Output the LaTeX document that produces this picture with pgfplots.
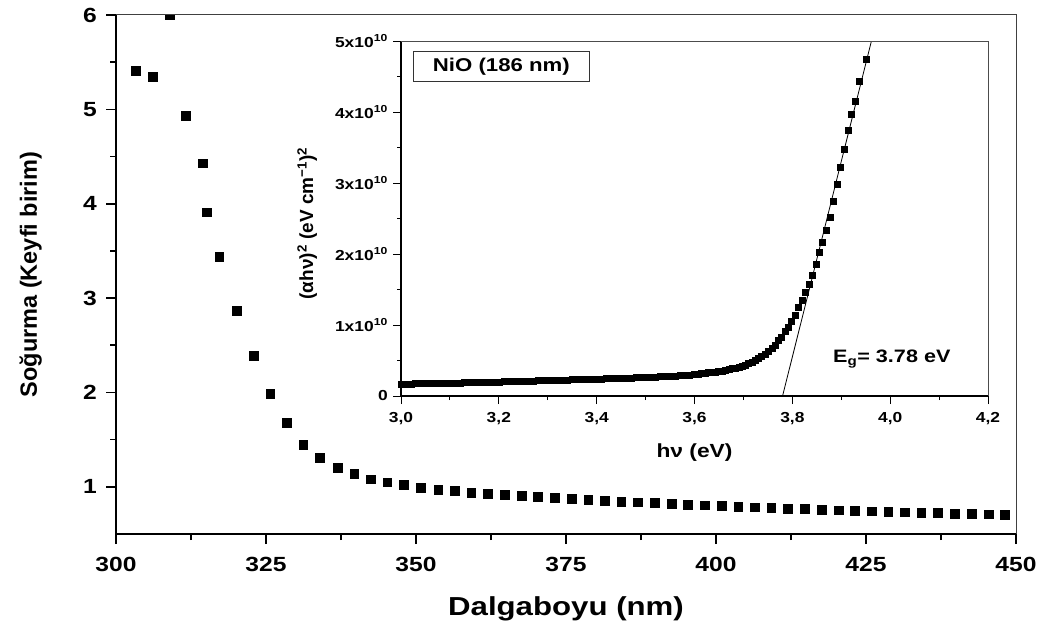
\documentclass[border=0pt]{standalone}
\usepackage{pgfplots}
\pgfplotsset{compat=1.18}
\usepackage{fontspec}
\setmainfont[FakeStretch=1.2]{Liberation Sans}
\newfontfamily\plainsans{Liberation Sans}
\pgfplotstableread{
x y
303.3 5.41
306.05 5.35
308.9 6.0
311.67 4.93
314.4 4.43
315.1 3.91
317.2 3.44
320.1 2.87
322.9 2.39
325.7 1.99
328.45 1.68
331.2 1.45
334.0 1.31
336.9 1.20
339.7 1.135
342.4 1.08
345.2 1.05
348.0 1.02
350.8 0.99
353.7 0.97
356.4 0.955
359.2 0.94
362.0 0.925
364.8 0.915
367.6 0.905
370.3 0.895
373.1 0.885
375.9 0.875
378.7 0.865
381.5 0.855
384.2 0.845
387.0 0.836
389.8 0.828
392.6 0.820
395.3 0.812
398.1 0.805
400.9 0.798
403.7 0.791
406.5 0.784
409.2 0.777
412.0 0.770
414.8 0.764
417.6 0.758
420.4 0.752
423.1 0.747
425.9 0.742
428.7 0.737
431.5 0.732
434.2 0.727
437.0 0.722
439.8 0.718
442.6 0.714
445.4 0.710
448.1 0.706
}\maindata
\pgfplotstableread{
x y
2.99 0.169
3.00 0.170
3.01 0.171
3.02 0.173
3.03 0.174
3.04 0.176
3.05 0.177
3.06 0.179
3.07 0.180
3.08 0.181
3.09 0.183
3.10 0.184
3.11 0.186
3.12 0.187
3.13 0.189
3.14 0.190
3.15 0.192
3.16 0.193
3.17 0.195
3.18 0.196
3.19 0.198
3.20 0.200
3.21 0.202
3.22 0.204
3.23 0.206
3.24 0.208
3.25 0.210
3.26 0.212
3.27 0.214
3.28 0.216
3.29 0.218
3.30 0.220
3.31 0.222
3.32 0.224
3.33 0.226
3.34 0.228
3.35 0.230
3.36 0.232
3.37 0.234
3.38 0.236
3.39 0.238
3.40 0.240
3.41 0.242
3.42 0.245
3.43 0.247
3.44 0.250
3.45 0.252
3.46 0.255
3.47 0.257
3.48 0.260
3.49 0.262
3.50 0.265
3.51 0.268
3.52 0.271
3.53 0.274
3.54 0.277
3.55 0.280
3.56 0.284
3.57 0.288
3.58 0.292
3.59 0.296
3.600 0.303
3.607 0.310
3.614 0.317
3.621 0.323
3.628 0.329
3.635 0.335
3.642 0.341
3.649 0.348
3.656 0.355
3.663 0.363
3.670 0.373
3.677 0.385
3.684 0.398
3.691 0.410
3.698 0.424
3.703 0.437
3.710 0.460
3.717 0.475
3.7236 0.500
3.730 0.530
3.737 0.555
3.744 0.590
3.751 0.625
3.758 0.670
3.7645 0.720
3.771 0.780
3.778 0.835
3.785 0.906
3.7917 0.976
3.7986 1.056
3.8054 1.140
3.812 1.245
3.820 1.350
3.827 1.455
3.834 1.570
3.841 1.700
3.848 1.860
3.855 2.020
3.862 2.170
3.8688 2.330
3.877 2.525
3.8837 2.750
3.892 2.985
3.8988 3.225
3.9056 3.480
3.9145 3.750
3.921 3.970
3.928 4.155
3.9369 4.430
3.9505 4.740
}\insetdata
\begin{document}
\begin{tikzpicture}[x=1pt,y=1pt]
\begin{axis}[
  scale only axis, width=900pt, height=519pt,
  at={(116pt,-534pt)}, anchor=south west,
  xmin=300, xmax=450, ymin=0.5, ymax=6,
  axis lines*=left, axis line style={line width=2pt,-},
  xtick={300,325,350,375,400,425,450}, ytick={1,2,3,4,5,6},
  minor x tick num=1, minor y tick num=1,
  tick align=outside, major tick length=10pt, minor tick length=6pt,
  tick style={line width=1.6pt,black},
  ticklabel style={font=\fontsize{20.5}{24}\selectfont\bfseries, /pgf/number format/assume math mode=true, inner sep=0pt},
  xticklabel style={anchor=north, yshift=-13pt},
  yticklabel style={anchor=east, xshift=-9pt},
  xlabel={Dalgaboyu (nm)},
  xlabel style={font=\fontsize{26}{30}\selectfont\bfseries, at={([yshift=-81pt]axis description cs:0.5,0)}, anchor=base},
  ylabel={\plainsans Soğurma (Keyfi birim)},
  ylabel style={font=\fontsize{23.5}{28}\selectfont\bfseries, at={([xshift=-79pt]axis description cs:0,0.5)}, anchor=base},
  clip marker paths=true,
  after end axis/.code={\draw[line width=1pt,black!75] (rel axis cs:0,1) -- (rel axis cs:1,1) -- (rel axis cs:1,0);},
]
\addplot[only marks, mark=square*, mark size=4.4pt, black] table[x=x,y=y]{\maindata};
\end{axis}
\begin{axis}[
  scale only axis, width=587pt, height=355pt,
  at={(401pt,-396pt)}, anchor=south west,
  xmin=3, xmax=4.2, ymin=0, ymax=5,
  axis lines*=left, axis line style={line width=1.3pt,-},
  xtick={3,3.2,3.4,3.6,3.8,4.0,4.2},
  xticklabels={{3,0},{3,2},{3,4},{3,6},{3,8},{4,0},{4,2}},
  ytick={0,1,2,3,4,5},
  yticklabels={0,1x10\textsuperscript{10},2x10\textsuperscript{10},3x10\textsuperscript{10},4x10\textsuperscript{10},5x10\textsuperscript{10}},
  minor x tick num=1, minor y tick num=1,
  tick align=outside, major tick length=8pt, minor tick length=4pt,
  tick style={line width=1pt,black},
  ticklabel style={font=\fontsize{14.5}{17}\selectfont\bfseries, inner sep=0pt},
  xticklabel style={anchor=north, yshift=-8pt},
  yticklabel style={anchor=east, xshift=-5pt},
  xlabel={hν (eV)},
  xlabel style={font=\fontsize{19}{22}\selectfont\bfseries, at={([yshift=-61pt]axis description cs:0.5,0)}, anchor=base},
  ylabel={\plainsans (αhν)\textsuperscript{2} (eV cm\textsuperscript{−1})\textsuperscript{2}},
  ylabel style={font=\fontsize{19}{22}\selectfont\bfseries, at={([xshift=-88pt,yshift=-5pt]axis description cs:0,0.5)}, anchor=base},
  after end axis/.code={
    \draw[line width=0.9pt,black!70] (rel axis cs:0,1) -- (rel axis cs:1,1) -- (rel axis cs:1,0);
    \node[draw=black!80, line width=0.9pt, anchor=north west, minimum width=176pt, minimum height=30pt, inner sep=0pt, font=\fontsize{18.5}{22}\selectfont\bfseries] at (rel axis cs:0.0204,0.9718) {NiO (186 nm)};
    \node[anchor=base west, inner sep=0pt, font=\fontsize{18}{22}\selectfont\bfseries] at (rel axis cs:0.736,0.093) {E\textsubscript{g}= 3.78 eV};
  },
]
\addplot[only marks, mark=square*, mark size=3pt, black] table[x=x,y=y]{\insetdata};
\addplot[black, line width=0.8pt, no marks] coordinates {(3.7764,-0.1) (3.9653,5.1)};
\end{axis}
\pgfresetboundingbox
\useasboundingbox (0,0) rectangle (1056pt,-628pt);
\end{tikzpicture}
\end{document}
